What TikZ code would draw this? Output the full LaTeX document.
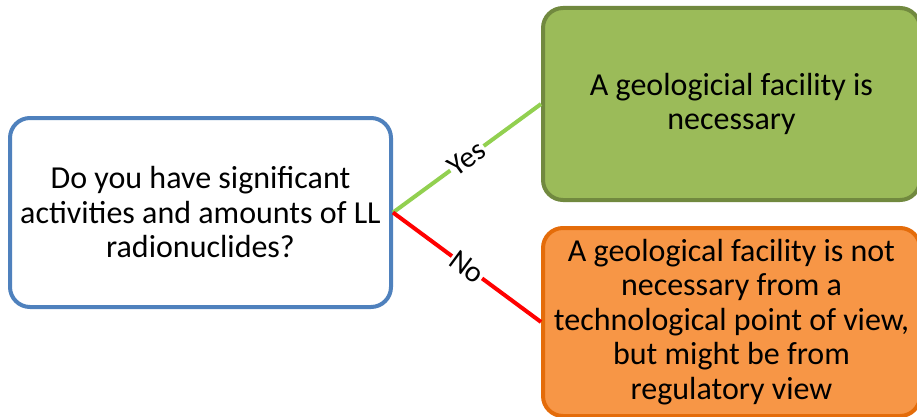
\documentclass[tikz,border=0pt]{standalone}
\usepackage{fontspec}
\setmainfont{Carlito}
\definecolor{qblue}{RGB}{79,129,189}
\definecolor{yesfill}{RGB}{155,187,89}
\definecolor{yesline}{RGB}{113,137,63}
\definecolor{nofill}{RGB}{247,150,70}
\definecolor{noline}{RGB}{228,108,10}
\definecolor{yesarrow}{RGB}{146,208,80}
\definecolor{noarrow}{RGB}{255,0,0}
\tikzset{
  box/.style={rounded corners=20pt, line width=4pt, align=center, inner sep=0pt,
    text=black, font=\fontsize{32}{34.5}\selectfont},
  question/.style={box, draw=qblue, fill=white, minimum width=381pt, minimum height=189pt},
  answer/.style={box, minimum width=377pt},
  branch/.style={line width=4pt},
  branchlabel/.style={fill=white, text=black, inner sep=1pt,
    font=\fontsize{30}{32}\selectfont, sloped}
}
\begin{document}
\begin{tikzpicture}[x=1pt,y=-1pt]
  \useasboundingbox (0,0) rectangle (917,417);
  \clip (0,0) rectangle (917,417);
  \node[question] (q) at (200.5,212.5)
    {Do you have significant\\activities and amounts of LL\\radionuclides?};
  \node[answer, draw=yesline, fill=yesfill, minimum height=192pt] (yes) at (731.5,104)
    {A geologicial facility is\\necessary};
  \node[answer, draw=noline, fill=nofill, minimum height=188pt] (no) at (731.5,322)
    {A geological facility is not\\necessary from a\\technological point of view,\\but might be from\\regulatory view};
  \draw[branch, yesarrow] (q.east) -- node[branchlabel] {Yes} (yes.west);
  \draw[branch, noarrow] (q.east) -- node[branchlabel] {No} (no.west);
\end{tikzpicture}
\end{document}
